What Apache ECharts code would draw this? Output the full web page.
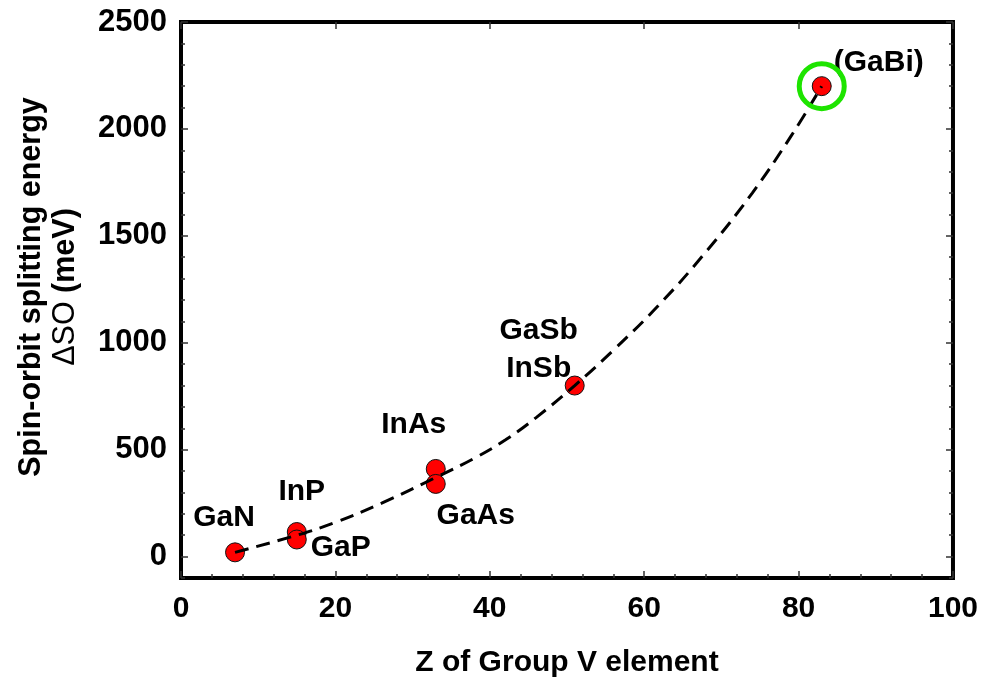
<!DOCTYPE html>
<html>
<head>
<meta charset="utf-8">
<script src="https://cdn.jsdelivr.net/npm/echarts@6/dist/echarts.min.js"></script>
<style>
  html, body { margin: 0; padding: 0; background: #fff; }
  #chart { width: 981px; height: 692px; }
</style>
</head>
<body>
<div id="chart"></div>
<script>
// III-V compounds: atomic number of the group V element vs. spin-orbit splitting
const compounds = ['GaN', 'InP', 'GaP', 'InAs', 'GaAs', 'GaSb\nInSb', '(GaBi)'];
const zNumbers = [7, 15, 15, 33, 33, 51, 83];
const splitting = [20, 115, 80, 410, 340, 800, 2200];

// Trend curve through the compounds (dashed)
const trendZ = [7, 15, 20, 26, 33, 38, 42, 46, 51, 56, 62, 68, 74, 79, 83];
const trendSplitting = [20, 100, 160, 250, 370, 460, 545, 650, 800, 965, 1180, 1425, 1700, 1965, 2200];

const xTicks = [0, 20, 40, 60, 80, 100];
const yTicks = [0, 500, 1000, 1500, 2000, 2500];
const highlighted = '(GaBi)';

// label placement around each marker (pixels)
const labelOffsets = {
  'GaN': [-11, -35],
  'InP': [5, -40],
  'GaP': [44, 8],
  'InAs': [-22, -44],
  'GaAs': [40, 32],
  'GaSb\nInSb': [-36, -36],
  '(GaBi)': [57, -23]
};

const FONT = "'Liberation Sans', Arial, sans-serif";
const tickColor = '#333';

const chart = echarts.init(document.getElementById('chart'), null, { renderer: 'canvas' });

const pointData = compounds.map((name, i) => ({
  name: name,
  value: [zNumbers[i], splitting[i]],
  label: { offset: labelOffsets[name] }
}));
const hi = compounds.indexOf(highlighted);

const noLine = { show: false, onZero: false };

const baseY = {
  type: 'value', min: -100, max: 2500, interval: 100,
  splitLine: { show: false },
  axisLine: noLine
};

const option = {
  backgroundColor: '#fff',
  animation: false,
  grid: {
    left: 181, right: 28, top: 22, bottom: 114,
    show: true, borderColor: '#000', borderWidth: 4, backgroundColor: 'transparent'
  },
  xAxis: [
    {
      type: 'value', position: 'bottom', min: 0, max: 100, interval: 20,
      splitLine: { show: false },
      axisLine: noLine,
      axisTick: { inside: true, length: 7, lineStyle: { color: tickColor, width: 1.5 } },
      minorTick: { show: true, splitNumber: 5, length: 4, lineStyle: { color: tickColor, width: 1.5 } },
      axisLabel: {
        margin: 16, color: '#000', fontFamily: FONT, fontWeight: 'bold', fontSize: 30,
        customValues: xTicks
      },
      name: 'Z of Group V element', nameLocation: 'middle', nameGap: 70,
      nameTextStyle: { color: '#000', fontFamily: FONT, fontWeight: 'bold', fontSize: 30 }
    },
    {
      type: 'value', position: 'top', min: 0, max: 100, interval: 20,
      splitLine: { show: false },
      axisLine: noLine,
      axisTick: { inside: true, length: 7, lineStyle: { color: tickColor, width: 1.5 } },
      axisLabel: { show: false }
    }
  ],
  yAxis: [
    Object.assign({}, baseY, {
      position: 'left',
      axisTick: { inside: true, length: 4, lineStyle: { color: tickColor, width: 1.5 } },
      axisLabel: {
        margin: 14, color: '#000', fontFamily: FONT, fontWeight: 'bold', fontSize: 31,
        formatter: v => (v >= 0 && v % 500 === 0) ? String(v) : ''
      }
    }),
    Object.assign({}, baseY, {
      position: 'left',
      axisTick: { inside: true, length: 7, customValues: yTicks, lineStyle: { color: tickColor, width: 1.5 } },
      axisLabel: { show: false }
    }),
    Object.assign({}, baseY, {
      position: 'right',
      axisTick: { inside: true, length: 4, lineStyle: { color: tickColor, width: 1.5 } },
      axisLabel: { show: false }
    }),
    Object.assign({}, baseY, {
      position: 'right',
      axisTick: { inside: true, length: 7, customValues: yTicks, lineStyle: { color: tickColor, width: 1.5 } },
      axisLabel: { show: false }
    })
  ],
  graphic: [
    {
      type: 'text', x: 49, y: 287, rotation: Math.PI / 2,
      style: {
        text: 'Spin-orbit splitting energy\n{n|ΔSO} (meV)',
        fontFamily: FONT, fontWeight: 'bold', fontSize: 30.5, lineHeight: 34,
        fill: '#000', align: 'center', verticalAlign: 'middle',
        rich: { n: { fontFamily: FONT, fontWeight: 'normal', fontSize: 30.5, lineHeight: 34, fill: '#000' } }
      }
    }
  ],
  series: [
    {
      name: 'compounds', type: 'scatter', xAxisIndex: 0, yAxisIndex: 0, z: 2,
      symbol: 'circle', symbolSize: 19,
      itemStyle: { color: '#ff0000', borderColor: '#111', borderWidth: 1, opacity: 1 },
      emphasis: { disabled: true },
      label: {
        show: true, position: 'inside', formatter: p => p.name,
        color: '#000', textBorderWidth: 0, fontFamily: FONT, fontWeight: 'bold', fontSize: 30, lineHeight: 38
      },
      data: pointData
    },
    {
      name: 'highlight', type: 'scatter', xAxisIndex: 0, yAxisIndex: 0, z: 4,
      symbol: 'circle', symbolSize: 45, silent: true,
      itemStyle: { color: 'rgba(0,0,0,0)', borderColor: '#1ee400', borderWidth: 5, opacity: 1 },
      data: [[zNumbers[hi], splitting[hi]]]
    },
    {
      name: 'trend', type: 'line', xAxisIndex: 0, yAxisIndex: 0, z: 3,
      smooth: 0.4, symbol: 'none',
      lineStyle: { color: '#000', width: 3, type: [14, 8] },
      data: trendZ.map((z, i) => [z, trendSplitting[i]])
    }
  ]
};

chart.setOption(option);
</script>
</body>
</html>
